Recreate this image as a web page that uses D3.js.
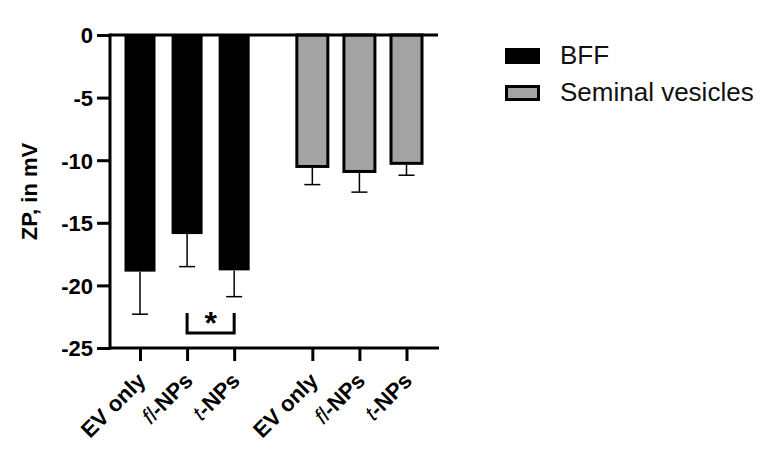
<!DOCTYPE html>
<html>
<head>
<meta charset="utf-8">
<script src="https://cdn.jsdelivr.net/npm/d3@7"></script>
<style>
  body { margin: 0; background: #fff; }
  text { font-family: "Liberation Sans", Arial, sans-serif; }
</style>
</head>
<body>
<script>
// data
let groups = ["BFF", "Seminal vesicles"];
let labels = ["EV only", "fl-NPs", "t-NPs"];
let bffMean = [-18.9, -15.9, -18.8];
let bffErr = [3.4, 2.6, 2.1];
let svMean = [-10.5, -10.9, -10.25];
let svErr = [1.45, 1.65, 0.95];
let yTicks = [0, -5, -10, -15, -20, -25];

let svgWidth = 772;
let svgHeight = 456;

let colors = ["#000000", "#a3a3a3"];

// one row per bar, position index includes gap between groups
let bars = [];
bffMean.forEach(function(d, i) {
  bars.push({ group: 0, label: labels[i], mean: d, err: bffErr[i], pos: i });
});
svMean.forEach(function(d, i) {
  bars.push({ group: 1, label: labels[i], mean: d, err: svErr[i], pos: i + 3.66 });
});

const svg = d3.select("body")
  .append("svg")
  .attr("width", svgWidth)
  .attr("height", svgHeight);

let x = d3.scaleLinear().domain([0, 5.66]).range([140, 406.5]);
let y = d3.scaleLinear().domain([0, -25]).range([35, 348]);
let barW = 31;
let axisX = 110;

// bars
svg.selectAll("rect.bar")
  .data(bars)
  .enter()
  .append("rect")
  .attr("class", "bar")
  .attr("x", function(d) { return x(d.pos) - barW / 2; })
  .attr("y", y(0))
  .attr("width", barW)
  .attr("height", function(d) { return y(d.mean) - y(0); })
  .attr("fill", function(d) { return colors[d.group]; })
  .attr("stroke", "#000")
  .attr("stroke-width", function(d) { return d.group == 1 ? 3 : 0; });

// error bars (downward only)
let errG = svg.selectAll("g.err")
  .data(bars)
  .enter()
  .append("g")
  .attr("class", "err")
  .attr("stroke", "#000")
  .attr("stroke-width", 1.5);

errG.append("line")
  .attr("x1", function(d) { return x(d.pos); })
  .attr("x2", function(d) { return x(d.pos); })
  .attr("y1", function(d) { return y(d.mean) + (d.group == 1 ? 1.5 : 0); })
  .attr("y2", function(d) { return y(d.mean - d.err); });

errG.append("line")
  .attr("x1", function(d) { return x(d.pos) - 8; })
  .attr("x2", function(d) { return x(d.pos) + 8; })
  .attr("y1", function(d) { return y(d.mean - d.err); })
  .attr("y2", function(d) { return y(d.mean - d.err); });

// y axis
let yAxis = d3.axisLeft(y)
  .tickValues(yTicks)
  .tickFormat(d3.format("d"))
  .tickSize(13)
  .tickPadding(4);

let yg = svg.append("g")
  .attr("transform", "translate(" + axisX + ",0)")
  .call(yAxis)
  .attr("font-family", null)
  .attr("font-size", null);
yg.select(".domain").remove();
yg.append("line")
  .attr("x1", 0).attr("x2", 0)
  .attr("y1", y(0) - 1.5).attr("y2", y(-25) + 1.5)
  .attr("stroke", "#000").attr("stroke-width", 3);
yg.selectAll(".tick line").attr("stroke-width", 3);
yg.selectAll(".tick text")
  .attr("font-size", "22px")
  .attr("font-weight", "bold")
  .attr("fill", "#000")
  .attr("dy", "0.36em")
  .text(function(d) { return d; });

// horizontal line at 0
svg.append("line")
  .attr("x1", axisX).attr("x2", 438)
  .attr("y1", y(0)).attr("y2", y(0))
  .attr("stroke", "#000").attr("stroke-width", 3);

let xAxis = d3.axisBottom(x)
  .tickValues(bars.map(function(d) { return d.pos; }))
  .tickFormat("")
  .tickSize(13)
  .tickSizeOuter(0);

let xg = svg.append("g")
  .attr("transform", "translate(0," + y(-25) + ")")
  .call(xAxis);
xg.select(".domain").remove();
xg.append("line")
  .attr("x1", axisX).attr("x2", 439)
  .attr("y1", 0).attr("y2", 0)
  .attr("stroke", "#000").attr("stroke-width", 3);
xg.selectAll(".tick line").attr("stroke-width", 3);

// rotated category labels, with italic prefix
let xl = svg.selectAll("text.xlab")
  .data(bars)
  .enter()
  .append("text")
  .attr("class", "xlab")
  .attr("transform", function(d) {
    return "translate(" + (x(d.pos) + 7) + "," + (y(-25) + 34) + ") rotate(-45)";
  })
  .attr("text-anchor", "end")
  .attr("font-size", "22px")
  .attr("font-weight", "bold")
  .attr("fill", "#000");

xl.each(function(d) {
  let t = d3.select(this);
  let dash = d.label.indexOf("-");
  if (dash > 0) {
    t.append("tspan").attr("font-style", "italic").attr("font-weight", "normal").text(d.label.slice(0, dash));
    t.append("tspan").text(d.label.slice(dash));
  } else {
    t.text(d.label);
  }
});

// y axis title
svg.append("text")
  .attr("transform", "translate(37," + ((y(0) + y(-25)) / 2) + ") rotate(-90)")
  .attr("text-anchor", "middle")
  .attr("font-size", "22px")
  .attr("font-weight", "bold")
  .text("ZP, in mV");

// significance bracket
let bx1 = x(1), bx2 = x(2);
svg.append("path")
  .attr("d", "M" + bx1 + "," + y(-22.2) + "V" + y(-23.8) + "H" + bx2 + "V" + y(-22.2))
  .attr("fill", "none")
  .attr("stroke", "#000")
  .attr("stroke-width", 3);
svg.append("text")
  .attr("x", (bx1 + bx2) / 2)
  .attr("y", y(-22.2) + 21)
  .attr("text-anchor", "middle")
  .attr("font-size", "32px")
  .attr("font-weight", "bold")
  .text("*");

// legend
let legend = svg.selectAll("g.legend")
  .data(groups)
  .enter()
  .append("g")
  .attr("class", "legend")
  .attr("transform", function(d, i) { return "translate(505," + (48 + i * 37) + ")"; });

legend.append("rect")
  .attr("x", function(d, i) { return i == 1 ? 1.5 : 0; })
  .attr("y", function(d, i) { return i == 1 ? 1.5 : 0; })
  .attr("width", function(d, i) { return i == 1 ? 32 : 35; })
  .attr("height", function(d, i) { return i == 1 ? 13 : 16; })
  .attr("fill", function(d, i) { return colors[i]; })
  .attr("stroke", "#000")
  .attr("stroke-width", function(d, i) { return i == 1 ? 3 : 0; });

legend.append("text")
  .attr("x", 55)
  .attr("y", 16)
  .attr("font-size", "26px")
  .attr("fill", "#111")
  .text(function(d) { return d; });
</script>
</body>
</html>
